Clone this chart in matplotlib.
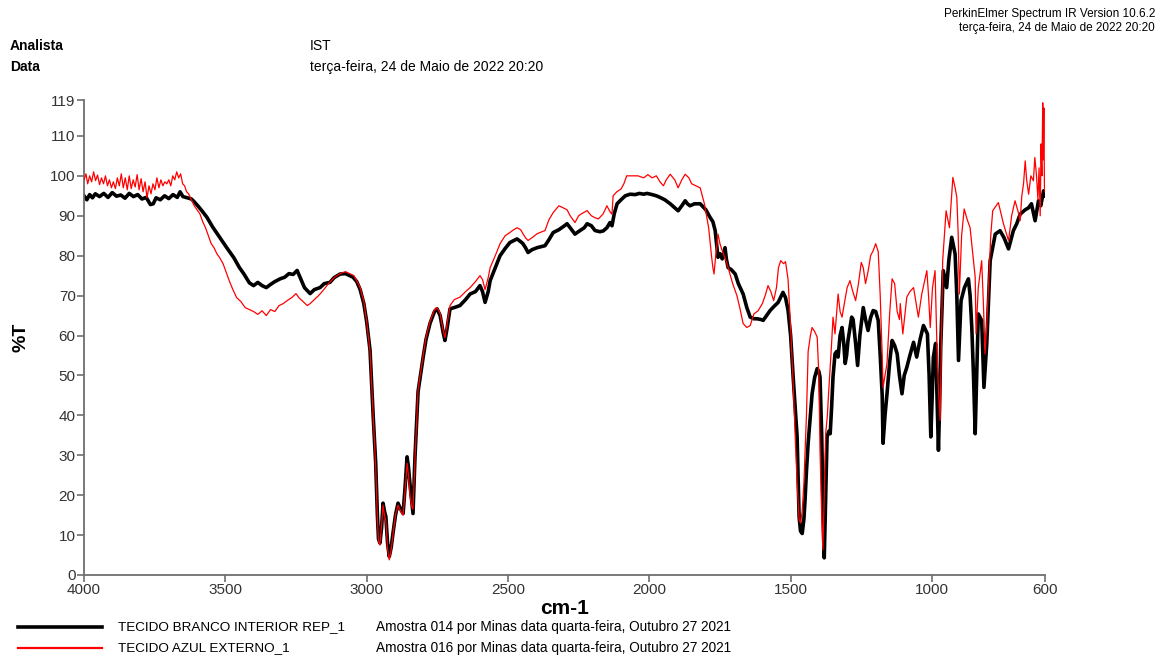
import matplotlib
matplotlib.use("Agg")
import matplotlib.pyplot as plt
from matplotlib.lines import Line2D

plt.rcParams['font.family'] = ['Liberation Sans', 'DejaVu Sans']

# --- spectrum 1: TECIDO BRANCO INTERIOR REP_1 (wavenumber, %T) ---
branco_wn = [
    4000, 3990, 3980, 3970, 3960, 3945, 3930, 3915, 3900, 3885, 3870, 3855, 3840, 3825, 3810,
    3795, 3780, 3765, 3755, 3745, 3730, 3715, 3700, 3685, 3670, 3660, 3650, 3635, 3620, 3610,
    3595, 3580, 3565, 3545, 3520, 3495, 3470, 3450, 3435, 3415, 3400, 3385, 3370, 3355, 3340,
    3325, 3306, 3290, 3275, 3260, 3246, 3235, 3220, 3200, 3185, 3165, 3150, 3130, 3115, 3094,
    3075, 3060, 3048, 3035, 3023, 3010, 3000, 2988, 2977, 2968, 2962, 2958, 2953, 2947, 2942,
    2937, 2932, 2926, 2920, 2913, 2907, 2898, 2889, 2880, 2871, 2864, 2857, 2852, 2847, 2840,
    2836, 2829, 2818, 2800, 2790, 2776, 2760, 2751, 2740, 2730, 2723, 2715, 2705, 2690, 2670,
    2650, 2634, 2615, 2599, 2590, 2581, 2570, 2563, 2545, 2528, 2510, 2493, 2468, 2455, 2447,
    2438, 2429, 2415, 2397, 2380, 2369, 2355, 2340, 2320, 2300, 2291, 2280, 2263, 2245, 2230,
    2220, 2205, 2192, 2175, 2163, 2150, 2139, 2132, 2124, 2114, 2100, 2085, 2068, 2050, 2035,
    2020, 2008, 1990, 1975, 1962, 1945, 1926, 1910, 1898, 1885, 1873, 1865, 1856, 1840, 1820,
    1800, 1785, 1775, 1767, 1762, 1757, 1750, 1742, 1732, 1727, 1721, 1710, 1696, 1685, 1668,
    1655, 1643, 1630, 1619, 1605, 1597, 1585, 1572, 1560, 1544, 1527, 1518, 1509, 1500, 1491,
    1484, 1477, 1470, 1465, 1459, 1453, 1449, 1444, 1438, 1430, 1424, 1415, 1406, 1400, 1396,
    1390, 1385, 1381, 1376, 1371, 1365, 1360, 1355, 1350, 1343, 1337, 1332, 1325, 1318, 1312,
    1307, 1302, 1297, 1284, 1279, 1270, 1263, 1255, 1243, 1235, 1226, 1217, 1208, 1199, 1190,
    1183, 1176, 1173, 1166, 1159, 1150, 1141, 1132, 1123, 1115, 1106, 1098, 1089, 1078, 1065,
    1054, 1042, 1030, 1016, 1010, 1004, 999, 995, 987, 982, 977, 973, 969, 960, 948,
    940, 930, 918, 912, 906, 897, 885, 871, 865, 859, 853, 847, 841, 836, 824,
    816, 806, 794, 776, 759, 745, 729, 712, 700, 688, 670, 658, 648, 635, 623,
    615, 605, 600,
]
branco_t = [
    95.0, 94.0, 95.3, 94.5, 95.5, 94.8, 95.6, 94.6, 95.8, 94.9, 95.2, 94.4, 95.6, 94.8, 95.3,
    94.2, 94.6, 92.8, 93.0, 94.5, 94.0, 95.0, 94.3, 95.3, 94.6, 96.0, 94.8, 94.5, 94.2, 93.5,
    92.3, 91.0, 89.6, 87.2, 84.6, 82.0, 79.5, 77.0, 75.5, 73.2, 72.5, 73.3, 72.5, 72.0, 72.8,
    73.5, 74.2, 74.6, 75.5, 75.3, 76.3, 74.5, 72.0, 70.5, 71.5, 72.0, 73.0, 73.3, 74.5, 75.4,
    75.5, 75.0, 74.6, 73.5, 71.5, 68.0, 63.5, 56.3, 40.0, 28.0, 15.0, 9.0, 8.0, 12.0, 18.0,
    16.0, 14.6, 8.0, 4.6, 7.0, 10.4, 15.0, 18.0, 16.5, 15.4, 22.0, 29.6, 27.0, 23.0, 18.0,
    15.4, 29.6, 46.0, 54.6, 59.0, 63.0, 66.0, 66.7, 65.0, 61.0, 58.75, 62.0, 66.7, 67.0, 67.5,
    69.0, 70.4, 71.0, 72.5, 71.0, 68.3, 71.0, 73.75, 77.0, 80.0, 81.8, 83.3, 84.2, 83.5, 83.0,
    82.0, 80.8, 81.5, 82.0, 82.3, 82.5, 84.0, 85.8, 86.5, 87.5, 88.0, 87.0, 85.4, 86.3, 87.0,
    88.0, 87.5, 86.3, 86.0, 86.2, 87.0, 88.3, 87.5, 90.5, 93.0, 94.0, 95.0, 95.4, 95.3, 95.6,
    95.4, 95.6, 95.3, 95.0, 94.6, 94.0, 93.0, 92.0, 91.25, 92.5, 93.75, 93.0, 92.5, 93.0, 93.0,
    91.5, 89.6, 88.5, 86.3, 83.0, 79.6, 80.5, 79.2, 82.0, 79.0, 77.0, 76.5, 75.4, 73.0, 70.4,
    67.0, 64.6, 64.2, 64.2, 64.0, 63.8, 65.0, 66.3, 67.2, 68.3, 70.8, 69.5, 66.3, 60.0, 49.6,
    42.0, 34.6, 14.6, 11.0, 10.4, 14.0, 18.75, 26.0, 33.0, 40.0, 45.4, 49.5, 51.7, 51.0, 49.6,
    35.0, 14.6, 4.3, 20.0, 34.6, 36.0, 35.4, 42.0, 49.6, 55.4, 56.0, 54.6, 60.0, 62.0, 58.0,
    53.0, 55.0, 58.75, 64.6, 64.0, 58.0, 52.5, 60.0, 67.0, 64.0, 61.25, 64.5, 66.25, 66.0, 63.75,
    55.0, 45.0, 33.0, 40.0, 45.4, 53.0, 58.75, 57.5, 55.4, 50.0, 45.4, 50.0, 52.0, 55.0, 58.3,
    54.6, 59.0, 62.5, 60.4, 50.0, 34.6, 45.0, 54.6, 58.0, 45.0, 31.25, 42.0, 57.0, 76.25, 72.0,
    79.0, 84.6, 80.4, 70.0, 53.75, 68.75, 72.0, 74.2, 70.0, 62.0, 50.0, 35.4, 52.0, 65.4, 63.75,
    47.0, 58.0, 78.75, 85.4, 86.25, 84.5, 81.7, 86.25, 88.0, 90.4, 91.5, 92.0, 93.0, 88.75, 93.75,
    92.5, 96.25, 95.0,
]

# --- spectrum 2: TECIDO AZUL EXTERNO_1 (wavenumber, %T) ---
azul_wn = [
    4000, 3993, 3987, 3980, 3973, 3966, 3959, 3952, 3945, 3938, 3931, 3924, 3917, 3910, 3903,
    3896, 3889, 3882, 3875, 3868, 3861, 3854, 3847, 3840, 3833, 3826, 3819, 3812, 3805, 3798,
    3791, 3784, 3777, 3770, 3763, 3756, 3749, 3742, 3735, 3728, 3721, 3714, 3707, 3700, 3693,
    3686, 3679, 3672, 3665, 3658, 3651, 3644, 3637, 3630, 3620, 3610, 3600, 3590, 3580, 3570,
    3560, 3550, 3540, 3530, 3520, 3508, 3495, 3485, 3472, 3460, 3445, 3430, 3415, 3400, 3385,
    3370, 3355, 3340, 3325, 3310, 3295, 3280, 3265, 3250, 3240, 3225, 3210, 3200, 3185, 3170,
    3154, 3135, 3115, 3094, 3075, 3060, 3045, 3030, 3023, 3010, 3000, 2988, 2977, 2968, 2962,
    2958, 2953, 2947, 2942, 2937, 2932, 2926, 2920, 2913, 2907, 2898, 2889, 2880, 2871, 2864,
    2857, 2852, 2847, 2840, 2836, 2829, 2818, 2800, 2790, 2776, 2760, 2751, 2740, 2730, 2723,
    2715, 2705, 2690, 2670, 2650, 2634, 2615, 2599, 2590, 2581, 2570, 2563, 2545, 2528, 2510,
    2493, 2480, 2468, 2455, 2447, 2438, 2429, 2415, 2397, 2380, 2369, 2355, 2340, 2320, 2305,
    2291, 2280, 2263, 2250, 2240, 2220, 2205, 2192, 2180, 2163, 2150, 2139, 2132, 2128, 2115,
    2100, 2090, 2080, 2060, 2040, 2020, 2005, 1990, 1975, 1962, 1950, 1940, 1926, 1910, 1898,
    1885, 1873, 1860, 1850, 1835, 1820, 1805, 1790, 1780, 1775, 1771, 1765, 1757, 1750, 1742,
    1730, 1721, 1705, 1690, 1680, 1668, 1655, 1643, 1630, 1615, 1600, 1590, 1580, 1570, 1560,
    1550, 1543, 1535, 1525, 1518, 1509, 1500, 1491, 1484, 1477, 1470, 1465, 1459, 1453, 1444,
    1438, 1430, 1424, 1415, 1406, 1400, 1396, 1390, 1386, 1381, 1376, 1370, 1365, 1355, 1350,
    1343, 1337, 1332, 1325, 1318, 1310, 1300, 1290, 1280, 1270, 1260, 1250, 1243, 1235, 1226,
    1217, 1208, 1199, 1190, 1183, 1176, 1173, 1166, 1159, 1150, 1141, 1132, 1123, 1115, 1112,
    1103, 1089, 1078, 1065, 1048, 1036, 1025, 1018, 1012, 1006, 998, 989, 985, 981, 976,
    971, 966, 962, 950, 938, 926, 918, 912, 907, 903, 895, 886, 875, 865, 855,
    847, 844, 836, 824, 818, 812, 806, 800, 792, 785, 765, 747, 729, 718, 706,
    695, 688, 682, 676, 670, 665, 658, 650, 641, 636, 630, 625, 621, 617, 614,
    611, 608, 606, 604, 602, 600,
]
azul_t = [
    99.0, 100.5, 98.0, 100.0, 98.5, 101.0, 98.8, 100.2, 97.8, 99.5, 98.0, 100.0, 97.5, 99.0, 97.0,
    98.5, 96.8, 99.5, 97.5, 100.5, 97.0, 99.5, 96.5, 100.0, 96.8, 99.0, 97.2, 100.3, 96.5, 99.3,
    96.0, 98.5, 94.5, 97.5, 95.5, 98.0, 96.5, 99.5, 97.0, 99.0, 97.5, 98.5, 98.0, 99.0, 97.5,
    100.0, 99.0, 101.0, 99.5, 100.5, 98.0, 97.5, 96.0, 95.5, 94.0, 92.5, 91.5, 90.5, 88.5, 87.0,
    85.0, 83.0, 82.0, 80.5, 79.5, 78.0, 75.5, 73.5, 71.3, 69.5, 68.5, 67.0, 66.5, 66.0, 65.3,
    66.2, 65.0, 66.5, 66.0, 67.5, 68.0, 68.8, 69.5, 70.5, 69.5, 68.5, 67.5, 68.0, 69.0, 70.0,
    71.3, 73.0, 74.5, 75.5, 76.0, 75.5, 75.0, 73.0, 72.0, 68.5, 63.5, 56.0, 40.0, 27.0, 14.0,
    8.5, 7.5, 12.5, 17.5, 15.0, 13.5, 6.5, 3.8, 6.5, 10.0, 15.0, 17.5, 16.0, 15.0, 21.0,
    28.0, 25.0, 20.0, 17.0, 16.5, 29.0, 46.5, 55.0, 59.5, 63.5, 66.5, 67.0, 65.5, 61.5, 59.5,
    63.0, 67.5, 69.0, 69.6, 71.0, 72.0, 73.5, 75.0, 74.0, 71.5, 74.5, 77.0, 80.0, 83.0, 85.0,
    85.8, 86.5, 87.0, 86.5, 85.5, 84.5, 83.8, 84.5, 85.5, 86.0, 86.3, 89.0, 90.8, 92.5, 92.0,
    91.5, 90.0, 88.3, 90.0, 90.5, 91.3, 90.0, 89.5, 89.2, 90.5, 92.5, 91.0, 90.4, 95.0, 96.0,
    96.7, 98.0, 100.0, 100.0, 100.0, 99.5, 100.3, 99.5, 100.0, 98.5, 97.5, 99.0, 100.4, 99.0, 97.0,
    99.0, 100.4, 99.5, 98.0, 97.5, 97.0, 93.0, 87.0, 80.0, 77.0, 75.4, 80.0, 85.4, 83.0, 81.25,
    79.0, 77.0, 73.0, 70.0, 67.0, 63.0, 62.0, 62.5, 65.4, 66.2, 68.0, 70.0, 72.5, 71.0, 68.75,
    72.0, 77.0, 78.75, 78.0, 78.5, 74.0, 62.0, 48.0, 35.0, 23.0, 14.0, 13.0, 16.0, 23.0, 40.0,
    56.0, 60.0, 62.0, 61.0, 59.6, 50.0, 31.3, 15.0, 6.3, 20.0, 35.4, 40.0, 46.3, 58.0, 64.6,
    60.4, 66.0, 70.4, 66.0, 64.6, 68.0, 72.0, 73.75, 71.0, 68.75, 73.0, 78.3, 77.0, 73.0, 76.0,
    80.0, 81.25, 83.0, 81.0, 70.0, 55.0, 47.0, 50.0, 53.0, 65.0, 74.2, 73.0, 66.0, 64.0, 68.0,
    60.4, 69.6, 71.0, 72.0, 64.6, 70.4, 74.0, 76.25, 70.0, 62.0, 72.0, 76.25, 65.0, 53.75, 45.0,
    38.75, 60.0, 78.75, 91.25, 87.0, 99.6, 97.0, 94.6, 85.0, 70.4, 85.0, 91.7, 89.0, 87.0, 80.0,
    74.6, 60.4, 72.0, 78.75, 68.0, 55.4, 63.0, 72.0, 85.0, 91.25, 93.3, 88.0, 83.75, 90.0, 93.75,
    91.0, 88.75, 95.0, 98.0, 103.75, 99.0, 95.4, 100.0, 98.75, 104.6, 100.0, 94.0, 102.0, 90.0, 108.0,
    100.0, 118.3, 104.0, 117.0, 97.0, 96.0,
]

x_ticks = [4000, 3500, 3000, 2500, 2000, 1500, 1000, 600]
y_ticks = [0, 10, 20, 30, 40, 50, 60, 70, 80, 90, 100, 110, 119]

fig = plt.figure(figsize=(11.64, 6.60), dpi=100)
ax = fig.add_axes([84 / 1164, 1 - 575 / 660, (1045 - 84) / 1164, (575 - 100) / 660])

ax.plot(branco_wn, branco_t, color='black', lw=2.6, zorder=2, solid_joinstyle='round')
ax.plot(azul_wn, azul_t, color='#ff0000', lw=0.9, zorder=3)

ax.set_xlim(4000, 600)
ax.set_ylim(0, 119)
ax.set_xticks(x_ticks)
ax.set_xticklabels([str(v) for v in x_ticks])
ax.set_yticks(y_ticks)
ax.set_yticklabels([str(v) for v in y_ticks])

spine_col = '#6e6e6e'
for side in ('top', 'right'):
    ax.spines[side].set_visible(False)
for side in ('left', 'bottom'):
    ax.spines[side].set_color(spine_col)
    ax.spines[side].set_linewidth(1.3)
ax.tick_params(axis='both', colors=spine_col, labelcolor='#333333', labelsize=11,
               length=5, width=1.2, direction='out', pad=1)

ax.set_xlabel('cm-1', fontsize=15, fontweight='bold', labelpad=1)
ax.set_ylabel('%T', fontsize=14, fontweight='bold', labelpad=15)

# header text
fig.text(1155 / 1164, 1 - 14 / 660, 'PerkinElmer Spectrum IR Version 10.6.2',
         ha='right', va='center', fontsize=8.5)
fig.text(1155 / 1164, 1 - 28 / 660, 'terça-feira, 24 de Maio de 2022 20:20',
         ha='right', va='center', fontsize=8.5)
fig.text(10 / 1164, 1 - 46 / 660, 'Analista', ha='left', va='center',
         fontsize=10, fontweight='bold')
fig.text(310 / 1164, 1 - 46 / 660, 'IST', ha='left', va='center', fontsize=10)
fig.text(10 / 1164, 1 - 67 / 660, 'Data', ha='left', va='center',
         fontsize=10, fontweight='bold')
fig.text(310 / 1164, 1 - 67 / 660, 'terça-feira, 24 de Maio de 2022 20:20',
         ha='left', va='center', fontsize=10)

# sample legend rows
legend_rows = [
    ('black', 2.6, 'TECIDO BRANCO INTERIOR REP_1',
     'Amostra 014 por Minas data quarta-feira, Outubro 27 2021', 627),
    ('#ff0000', 1.6, 'TECIDO AZUL EXTERNO_1',
     'Amostra 016 por Minas data quarta-feira, Outubro 27 2021', 648),
]
for col, lw, name, info, ypix in legend_rows:
    yf = 1 - ypix / 660
    fig.add_artist(Line2D([18 / 1164, 102 / 1164], [yf, yf], color=col, lw=lw))
    fig.text(118 / 1164, yf, name, ha='left', va='center', fontsize=9.7)
    fig.text(376 / 1164, yf, info, ha='left', va='center', fontsize=9.8)

fig.savefig('out.png', dpi=100)
